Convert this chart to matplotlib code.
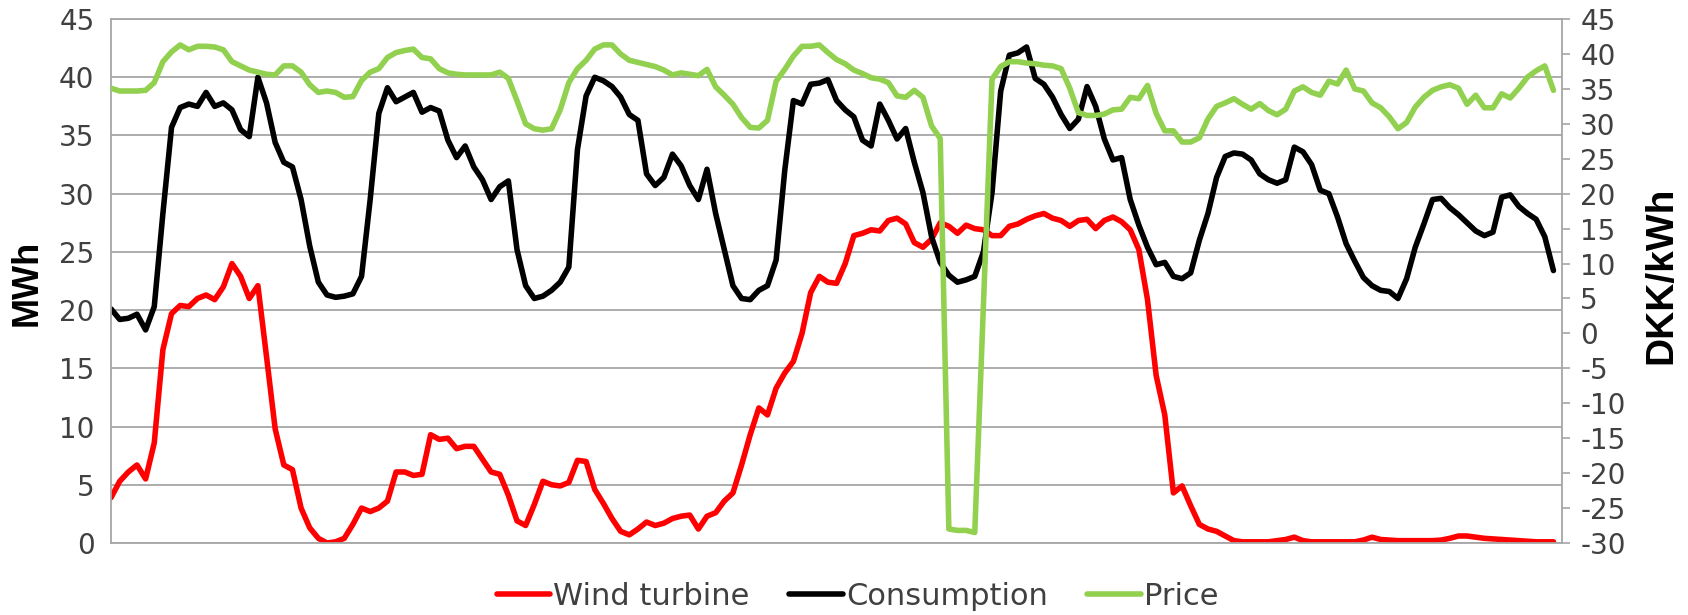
import numpy as np
import matplotlib
matplotlib.use('Agg')
import matplotlib.pyplot as plt

plt.rcParams['font.family'] = ['DejaVu Sans']
plt.rcParams['axes.unicode_minus'] = False

# hourly values over one week (168 hours)
wind = [
    3.9, 5.3, 6.1, 6.7, 5.5, 8.6, 16.6, 19.7, 20.4, 20.3,
    21.0, 21.3, 20.9, 22.0, 24.0, 22.9, 21.0, 22.1, 16.0, 9.8,
    6.7, 6.3, 3.0, 1.3, 0.4, 0.0, 0.1, 0.4, 1.6, 3.0,
    2.7, 3.0, 3.6, 6.1, 6.1, 5.8, 5.9, 9.3, 8.9, 9.0,
    8.1, 8.3, 8.3, 7.2, 6.1, 5.9, 4.1, 1.9, 1.5, 3.3,
    5.3, 5.0, 4.9, 5.2, 7.1, 7.0, 4.6, 3.4, 2.1, 1.0,
    0.7, 1.2, 1.8, 1.5, 1.7, 2.1, 2.3, 2.4, 1.2, 2.3,
    2.6, 3.6, 4.3, 6.7, 9.3, 11.6, 11.0, 13.3, 14.6, 15.6,
    18.0, 21.5, 22.9, 22.4, 22.3, 24.0, 26.4, 26.6, 26.9, 26.8,
    27.7, 27.9, 27.4, 25.8, 25.4, 26.1, 27.5, 27.2, 26.6, 27.3,
    27.0, 26.9, 26.4, 26.4, 27.2, 27.4, 27.8, 28.1, 28.3, 27.9,
    27.7, 27.2, 27.7, 27.8, 27.0, 27.7, 28.0, 27.6, 26.9, 25.2,
    20.9, 14.4, 11.0, 4.3, 4.9, 3.2, 1.6, 1.2, 1.0, 0.6,
    0.2, 0.1, 0.1, 0.1, 0.1, 0.2, 0.3, 0.5, 0.2, 0.1,
    0.1, 0.1, 0.1, 0.1, 0.1, 0.25, 0.5, 0.3, 0.25, 0.2,
    0.2, 0.2, 0.2, 0.2, 0.25, 0.4, 0.6, 0.6, 0.5, 0.4,
    0.35, 0.3, 0.25, 0.2, 0.15, 0.1, 0.1, 0.1,
]

consumption = [
    20.1, 19.2, 19.3, 19.65, 18.3, 20.3, 28.3, 35.7, 37.4, 37.7,
    37.5, 38.7, 37.5, 37.8, 37.2, 35.5, 34.9, 40.0, 37.8, 34.4,
    32.7, 32.3, 29.5, 25.5, 22.4, 21.3, 21.1, 21.2, 21.4, 22.9,
    29.5, 36.9, 39.1, 37.9, 38.3, 38.7, 37.0, 37.4, 37.1, 34.6,
    33.1, 34.1, 32.3, 31.2, 29.5, 30.6, 31.1, 25.2, 22.1, 21.0,
    21.2, 21.7, 22.4, 23.7, 33.8, 38.4, 40.0, 39.7, 39.2, 38.3,
    36.8, 36.3, 31.7, 30.7, 31.4, 33.4, 32.4, 30.7, 29.5, 32.1,
    28.3, 25.2, 22.1, 21.0, 20.9, 21.7, 22.1, 24.3, 32.0, 38.0,
    37.7, 39.4, 39.5, 39.8, 38.0, 37.2, 36.6, 34.6, 34.1, 37.7,
    36.3, 34.7, 35.6, 32.7, 30.1, 26.3, 24.1, 23.0, 22.4, 22.6,
    22.9, 25.0, 30.1, 38.8, 41.9, 42.1, 42.6, 39.9, 39.4, 38.3,
    36.8, 35.6, 36.4, 39.2, 37.5, 34.7, 32.9, 33.1, 29.5, 27.3,
    25.4, 23.9, 24.1, 22.9, 22.7, 23.2, 26.0, 28.3, 31.4, 33.2,
    33.5, 33.4, 32.9, 31.7, 31.2, 30.9, 31.2, 34.0, 33.6, 32.5,
    30.3, 30.0, 28.0, 25.7, 24.2, 22.8, 22.1, 21.7, 21.6, 21.0,
    22.7, 25.4, 27.4, 29.5, 29.6, 28.8, 28.2, 27.5, 26.8, 26.4,
    26.7, 29.7, 29.9, 28.9, 28.3, 27.8, 26.3, 23.4,
]

price = [
    35.1, 34.7, 34.7, 34.7, 34.8, 35.9, 38.9, 40.3, 41.3, 40.6,
    41.1, 41.1, 41.0, 40.6, 38.9, 38.3, 37.7, 37.4, 37.1, 37.0,
    38.3, 38.3, 37.4, 35.6, 34.5, 34.7, 34.5, 33.8, 33.9, 36.2,
    37.4, 37.9, 39.5, 40.2, 40.5, 40.7, 39.5, 39.3, 37.9, 37.3,
    37.1, 37.0, 37.0, 37.0, 37.0, 37.4, 36.5, 33.3, 30.0, 29.3,
    29.1, 29.3, 32.0, 35.9, 37.9, 39.1, 40.7, 41.3, 41.3, 40.0,
    39.1, 38.8, 38.5, 38.2, 37.7, 37.0, 37.3, 37.1, 36.9, 37.8,
    35.3, 34.1, 32.8, 30.9, 29.5, 29.4, 30.5, 36.1, 37.8, 39.7,
    41.1, 41.1, 41.3, 40.2, 39.2, 38.6, 37.7, 37.2, 36.6, 36.4,
    35.9, 34.0, 33.8, 34.8, 33.8, 29.7, 27.9, -28.0, -28.2, -28.2,
    -28.5, 3.8, 36.4, 38.2, 38.9, 38.9, 38.7, 38.6, 38.4, 38.3,
    37.9, 35.1, 31.6, 31.2, 31.2, 31.4, 32.0, 32.1, 33.8, 33.6,
    35.5, 31.5, 29.0, 29.0, 27.4, 27.4, 28.0, 30.7, 32.5, 33.0,
    33.6, 32.8, 32.1, 32.9, 31.9, 31.3, 32.1, 34.7, 35.3, 34.5,
    34.1, 36.1, 35.7, 37.7, 35.0, 34.7, 33.0, 32.3, 31.0, 29.3,
    30.2, 32.4, 33.8, 34.8, 35.3, 35.6, 35.1, 32.8, 34.1, 32.3,
    32.3, 34.3, 33.7, 35.1, 36.7, 37.6, 38.3, 34.8,
]

hours = np.arange(len(wind))
grid_col = '#A6A6A6'
text_col = '#404040'
lw = 4.0

fig = plt.figure(figsize=(16.88, 6.15), dpi=100)
ax = fig.add_axes([0.0658, 0.1171, 0.8596, 0.8519])
ax2 = ax.twinx()

style = dict(lw=lw, solid_capstyle='round', solid_joinstyle='round')
l1, = ax.plot(hours, wind, color='#FF0000', label='Wind turbine', **style)
l2, = ax.plot(hours, consumption, color='#000000', label='Consumption', **style)
l3, = ax2.plot(hours, price, color='#92D050', label='Price', **style)

ax.set_xlim(0, len(hours))
ax.set_ylim(0, 45)
ax2.set_ylim(-30, 45)
ax.set_yticks(range(0, 46, 5))
ax2.set_yticks(range(-30, 46, 5))

ax.grid(axis='y', color=grid_col, lw=1.3)
ax.tick_params(axis='y', length=0, pad=12, labelsize=20, labelcolor=text_col)
ax.tick_params(axis='x', bottom=False, labelbottom=False)
ax2.tick_params(axis='y', direction='out', length=6, width=1.2, color=grid_col,
                pad=7, labelsize=20, labelcolor=text_col)

for s in ['top', 'bottom', 'left']:
    ax.spines[s].set_color(grid_col)
    ax.spines[s].set_linewidth(1.3)
ax.spines['right'].set_visible(False)
for s in ['top', 'bottom', 'left']:
    ax2.spines[s].set_visible(False)
ax2.spines['right'].set_color(grid_col)
ax2.spines['right'].set_linewidth(1.3)

fig.text(27 / 1688, 1 - 283 / 615, 'MWh', rotation=90, ha='center', va='center',
         fontsize=26, fontweight='bold', color='black', family='Liberation Sans')
fig.text(1661 / 1688, 1 - 275 / 615, 'DKK/kWh', rotation=90, ha='center', va='center',
         fontsize=28, fontweight='bold', color='black', family='Liberation Sans')

fig.legend([l1, l2, l3], ['Wind turbine', 'Consumption', 'Price'], loc='center',
           bbox_to_anchor=(0.508, 0.030), ncol=3, frameon=False, fontsize=22,
           handlelength=1.75, handletextpad=0.1, columnspacing=1.3, labelcolor=text_col)

fig.savefig('out.png', dpi=100)
